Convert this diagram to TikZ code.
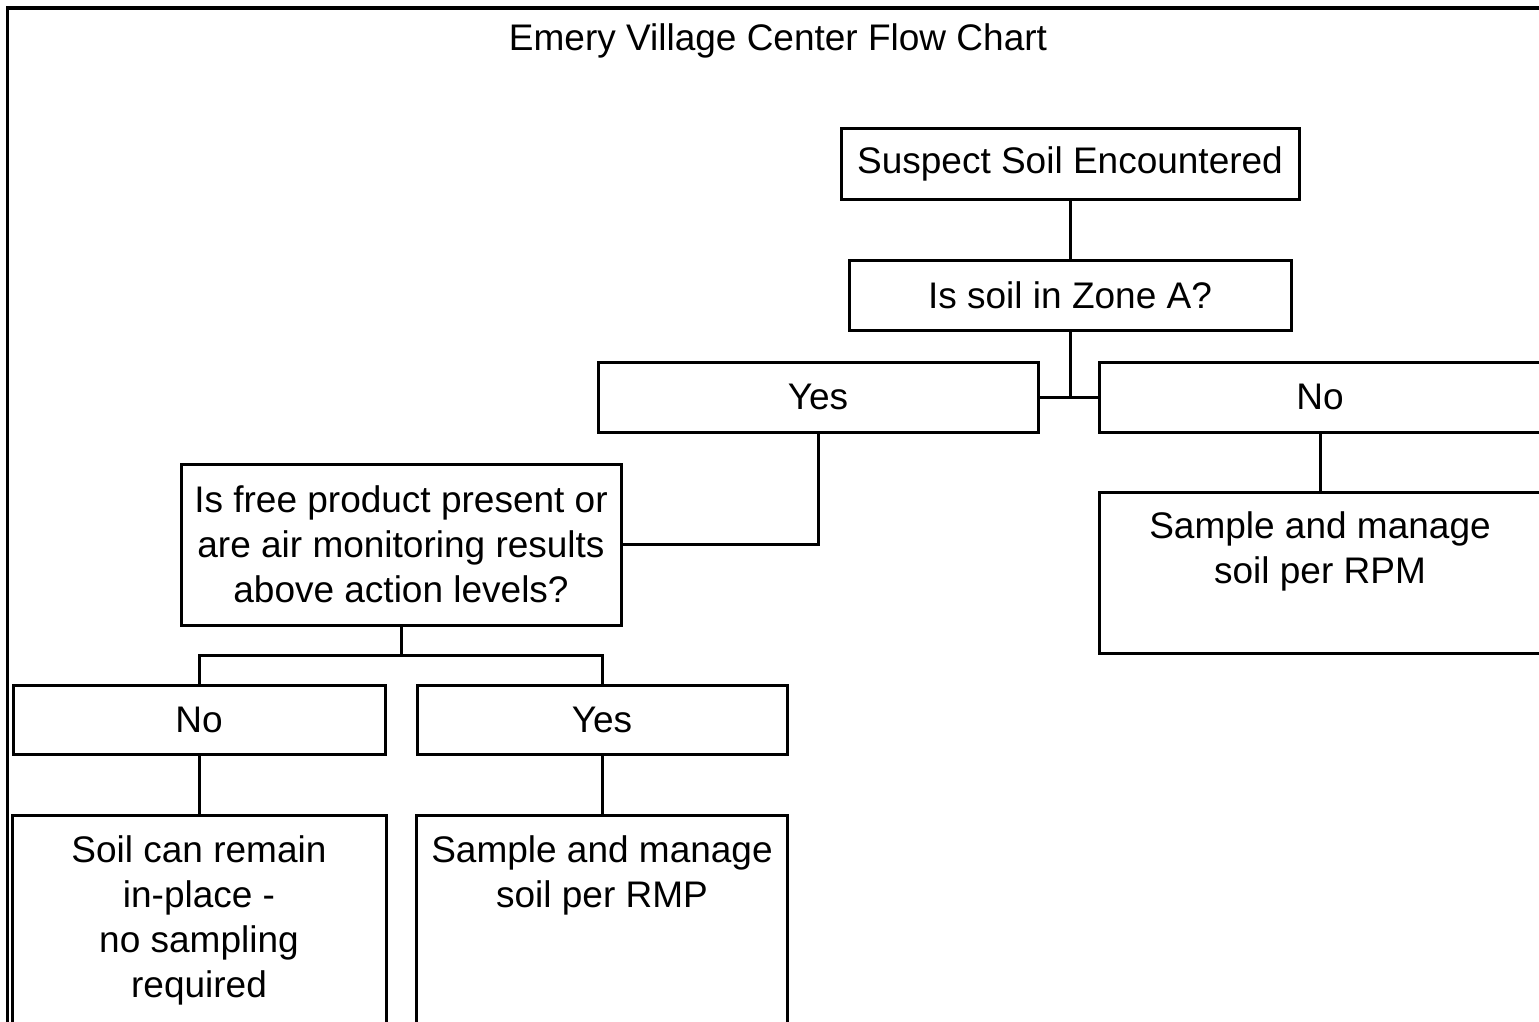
\documentclass[tikz,border=0pt]{standalone}
\usepackage{fontspec}
\setmainfont{Liberation Sans}
\begin{document}
\begin{tikzpicture}[x=1pt,y=-1pt,
  box/.style={draw, line width=3pt, inner sep=0pt, align=center, font=\fontsize{37}{45}\selectfont},
  txt/.style={align=center, inner sep=0pt, font=\fontsize{37}{45}\selectfont},
  link/.style={line width=3pt}]
\useasboundingbox (0,0) rectangle (1539,1021);
\clip (0,0) rectangle (1539,1021);
% frame
\draw[line width=3.2pt] (7.5,1030) -- (7.5,8) -- (1545,8);
% title
\node[txt] (title) at (778,41) {Emery Village Center Flow Chart};
% boxes
\node[box, minimum width=458, minimum height=71] (suspect) at (1070,163.5) {Suspect Soil Encountered};
\node[box, minimum width=442, minimum height=70] (zone) at (1070,295) {Is soil in Zone A?};
\node[box, minimum width=440, minimum height=70] (yes1) at (818,397) {Yes};
\node[box, minimum width=442, minimum height=70] (no1) at (1320,397) {No};
\node[box, minimum width=442, minimum height=161] (rpm) at (1320,572.5) {};
\node[txt] (rpmtxt) at (1320,551.5) {Sample and manage\\soil per RPM};
\node[box, minimum width=440, minimum height=161] (free) at (401,544.5) {Is free product present or\\are air monitoring results\\above action levels?};
\node[box, minimum width=372, minimum height=69] (no2) at (199,719.5) {No};
\node[box, minimum width=370, minimum height=69] (yes2) at (602,719.5) {Yes};
\node[box, minimum width=374, minimum height=220] (soil) at (199,925) {};
\node[txt] (soiltxt) at (199,920) {Soil can remain\\in-place -\\no sampling\\required};
\node[box, minimum width=371, minimum height=220] (rmp) at (602,925) {};
\node[txt] (rmptxt) at (602,875) {Sample and manage\\soil per RMP};
% connectors
\coordinate (j1) at (1070,397);
\coordinate (j2) at (401,655);
\draw[link] (suspect.south) -- (zone.north);
\draw[link] (zone.south) -- (j1);
\draw[link] (yes1.east) -- (no1.west);
\draw[link] (yes1.south) |- (free.east);
\draw[link] (free.south) -- (j2);
\draw[link] (no2.north) |- (j2) -| (yes2.north);
\draw[link] (no2.south) -- (soil.north);
\draw[link] (yes2.south) -- (rmp.north);
\draw[link] (no1.south) -- (rpm.north);
\end{tikzpicture}
\end{document}
